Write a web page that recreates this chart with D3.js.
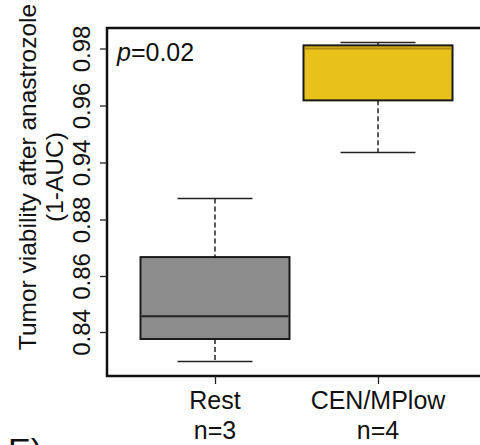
<!DOCTYPE html>
<html>
<head>
<meta charset="utf-8">
<script src="https://cdn.jsdelivr.net/npm/d3@7"></script>
<style>
  body { margin: 0; background: #fff; }
  svg { display: block; font-family: "Liberation Sans", Arial, sans-serif; }
</style>
</head>
<body>
<div id="chart"></div>
<script>
// Box plot stats
const groups = ['Rest', 'CEN/MPlow'];
const groupN = ['n=3', 'n=4'];
const lowerWhisker = [0.8295, 0.9435];
const q1 = [0.8375, 0.9618];
const median = [0.8456, 0.9800];
const q3 = [0.8667, 0.9811];
const upperWhisker = [0.9020, 0.9821];
const fills = ['#8c8c8c', '#e8c11a'];
const medianColors = ['#222222', '#b08a10'];

// the axis is compressed: ticks evenly spaced but labels jump 0.88 -> 0.94
const tickValues = [0.84, 0.86, 0.88, 0.94, 0.96, 0.98];
const pText = '0.02';

const W = 480, H = 445;
const plot = { left: 107, top: 28, right: 500, bottom: 376 };

const svg = d3.select('#chart').append('svg')
  .attr('width', W)
  .attr('height', H);

// polylinear scale: equal spacing per tick
const yScale = d3.scaleLinear()
  .domain(tickValues)
  .range([332, 276, 219.5, 162.5, 105.5, 48.5]);

const xScale = d3.scalePoint()
  .domain(groups)
  .range([215, 378]);

const boxW = 149, capW = 75;

// frame (right side is cut off by the window)
svg.append('rect')
  .attr('x', plot.left)
  .attr('y', plot.top)
  .attr('width', plot.right - plot.left)
  .attr('height', plot.bottom - plot.top)
  .attr('fill', 'none')
  .attr('stroke', '#111')
  .attr('stroke-width', 2.5);

// y axis
const yAxis = svg.append('g')
  .attr('transform', `translate(${plot.left},0)`)
  .call(d3.axisLeft(yScale).tickValues(tickValues).tickSize(7).tickPadding(0).tickFormat(d3.format('.2f')));
yAxis.select('.domain').remove();
yAxis.selectAll('.tick line').attr('stroke', '#222').attr('stroke-width', 1.3);
yAxis.selectAll('.tick text')
  .attr('transform', 'rotate(-90)')
  .attr('x', 0)
  .attr('y', -17)
  .attr('dy', 0)
  .attr('text-anchor', 'middle')
  .style('font-size', '24px')
  .style('fill', '#111')
  .style('font-family', '"Liberation Sans", Arial, sans-serif');

// x axis ticks + labels
const xAxis = svg.append('g')
  .attr('transform', `translate(0,${plot.bottom})`)
  .call(d3.axisBottom(xScale).tickSize(8).tickFormat(''));
xAxis.select('.domain').remove();
xAxis.selectAll('.tick line').attr('stroke', '#222').attr('stroke-width', 1.3);

groups.forEach((g, i) => {
  svg.append('text')
    .attr('x', xScale(g))
    .attr('y', 409)
    .attr('text-anchor', 'middle')
    .style('font-size', '25px')
    .style('fill', '#111')
    .text(g);
  svg.append('text')
    .attr('x', xScale(g))
    .attr('y', 439)
    .attr('text-anchor', 'middle')
    .style('font-size', '25px')
    .style('fill', '#111')
    .text(groupN[i]);
});

// axis title
const titleX = 36, titleY = 177;
svg.append('text')
  .attr('transform', `translate(${titleX},${titleY}) rotate(-90)`)
  .attr('text-anchor', 'middle')
  .style('font-size', '24.5px')
  .style('fill', '#111')
  .text('Tumor viability after anastrozole');
svg.append('text')
  .attr('transform', `translate(${titleX + 27},${titleY}) rotate(-90)`)
  .attr('text-anchor', 'middle')
  .style('font-size', '24.5px')
  .style('fill', '#111')
  .text('(1-AUC)');

// boxes
const boxes = svg.selectAll('.box')
  .data(groups)
  .enter().append('g')
  .attr('class', 'box');

// whiskers (dashed)
boxes.append('line')
  .attr('x1', d => xScale(d)).attr('x2', d => xScale(d))
  .attr('y1', (d, i) => yScale(upperWhisker[i]))
  .attr('y2', (d, i) => yScale(q3[i]))
  .attr('stroke', '#222').attr('stroke-width', 1.5).attr('stroke-dasharray', '5,3');
boxes.append('line')
  .attr('x1', d => xScale(d)).attr('x2', d => xScale(d))
  .attr('y1', (d, i) => yScale(q1[i]))
  .attr('y2', (d, i) => yScale(lowerWhisker[i]))
  .attr('stroke', '#222').attr('stroke-width', 1.5).attr('stroke-dasharray', '5,3');

// caps
[upperWhisker, lowerWhisker].forEach(arr => {
  boxes.append('line')
    .attr('x1', d => xScale(d) - capW / 2).attr('x2', d => xScale(d) + capW / 2)
    .attr('y1', (d, i) => yScale(arr[i]))
    .attr('y2', (d, i) => yScale(arr[i]))
    .attr('stroke', '#222').attr('stroke-width', 1.5);
});

boxes.append('rect')
  .attr('x', d => xScale(d) - boxW / 2)
  .attr('width', boxW)
  .attr('y', (d, i) => yScale(q3[i]))
  .attr('height', (d, i) => yScale(q1[i]) - yScale(q3[i]))
  .attr('fill', (d, i) => fills[i])
  .attr('stroke', '#1a1a1a')
  .attr('stroke-width', 2);

boxes.append('line')
  .attr('x1', d => xScale(d) - boxW / 2 + 1).attr('x2', d => xScale(d) + boxW / 2 - 1)
  .attr('y1', (d, i) => yScale(median[i]))
  .attr('y2', (d, i) => yScale(median[i]))
  .attr('stroke', (d, i) => medianColors[i])
  .attr('stroke-width', 2);

// p-value
const pLabel = svg.append('text')
  .attr('x', 117)
  .attr('y', 61)
  .style('font-size', '25px')
  .style('fill', '#111');
pLabel.append('tspan').style('font-style', 'italic').text('p');
pLabel.append('tspan').text('=' + pText);

// panel letter, clipped at the bottom like the reference
svg.append('text')
  .attr('x', 8)
  .attr('y', 462)
  .style('font-size', '34px')
  .style('fill', '#111')
  .text('E)');
</script>
</body>
</html>
